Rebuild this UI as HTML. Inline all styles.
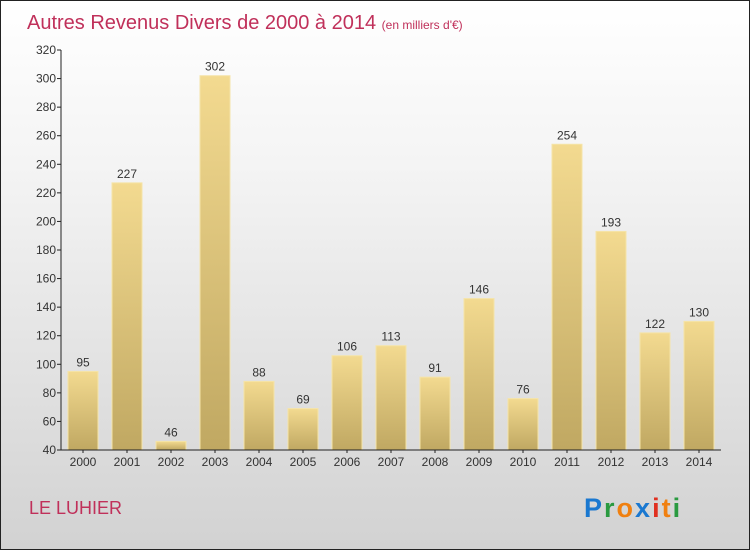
<!DOCTYPE html>
<html><head><meta charset="utf-8"><style>
body{margin:0}
#c{width:748px;height:548px;border:1px solid #222;background:linear-gradient(#ffffff,#f4f4f4 30%,#d2d2d2);position:relative;overflow:hidden;font-family:"Liberation Sans",sans-serif}
</style></head><body>
<div id="c">
<svg width="748" height="548" id="svg">
<defs><linearGradient id="bg" x1="0" y1="0" x2="0" y2="1"><stop offset="0" stop-color="#f3da90"/><stop offset="1" stop-color="#c0a862"/></linearGradient></defs>
<text x="26" y="28" font-size="20" fill="#c0305a">Autres Revenus Divers de 2000 à 2014 <tspan font-size="12">(en milliers d'€)</tspan></text>
<text x="28" y="513" font-size="18" fill="#c0305a">LE LUHIER</text>
<g font-size="27" font-weight="bold" font-family="'Liberation Sans',sans-serif">
<text x="583" y="516" letter-spacing="2"><tspan fill="#1a78d0">P</tspan><tspan fill="#2a9a40">r</tspan><tspan fill="#f08010">o</tspan><tspan fill="#1a78d0">x</tspan><tspan fill="#e03020">i</tspan><tspan fill="#f08010">t</tspan><tspan fill="#2a9a40">i</tspan></text></g>
<g id="plot"></g>
</svg></div>
<script>
const years=["2000","2001","2002","2003","2004","2005","2006","2007","2008","2009","2010","2011","2012","2013","2014"];
const values=[95,227,46,302,88,69,106,113,91,146,76,254,193,122,130];
const yTicks=[40,60,80,100,120,140,160,180,200,220,240,260,280,300,320];
const ns="http://www.w3.org/2000/svg";
const g=document.getElementById('plot');
const X0=60,X1=720,Y0=449,Y1=49,ymin=40,ymax=320;
const band=(X1-X0)/years.length;
const y=v=>Y0-(v-ymin)/(ymax-ymin)*(Y0-Y1);
const xc=i=>X0+band*(i+0.5);
function mk(t,a){const e=document.createElementNS(ns,t);for(const k in a)e.setAttribute(k,a[k]);g.appendChild(e);return e;}
yTicks.forEach(t=>{
 const l=mk('line',{x1:X0-4,x2:X0,y1:y(t),y2:y(t),stroke:'#222'});
 
 
 const tx=mk('text',{x:X0-5,y:y(t)+4,'font-size':12,'text-anchor':'end',fill:'#333'});tx.textContent=t;
 
 
});
values.forEach((v,i)=>{
 const r=mk('rect',{x:xc(i)-15,y:y(v),width:30,height:Y0-y(v),fill:'url(#bg)',stroke:'#f5e4a8','stroke-width':1});
 
 
 const t=mk('text',{x:xc(i),y:y(v)-5,'font-size':12,'text-anchor':'middle',fill:'#333'});t.textContent=v;
 
 
 const xl=mk('text',{x:xc(i),y:Y0+16,'font-size':12,'text-anchor':'middle',fill:'#333'});xl.textContent=years[i];
 
 
 const xt=mk('line',{x1:xc(i),x2:xc(i),y1:Y0,y2:Y0+3,stroke:'#222'});
 
 
});
const ya=mk('line',{x1:X0,x2:X0,y1:Y1,y2:Y0,stroke:'#222'});


const xa=mk('line',{x1:X0,x2:X1,y1:Y0,y2:Y0,stroke:'#222'});


</script>
</body></html>
